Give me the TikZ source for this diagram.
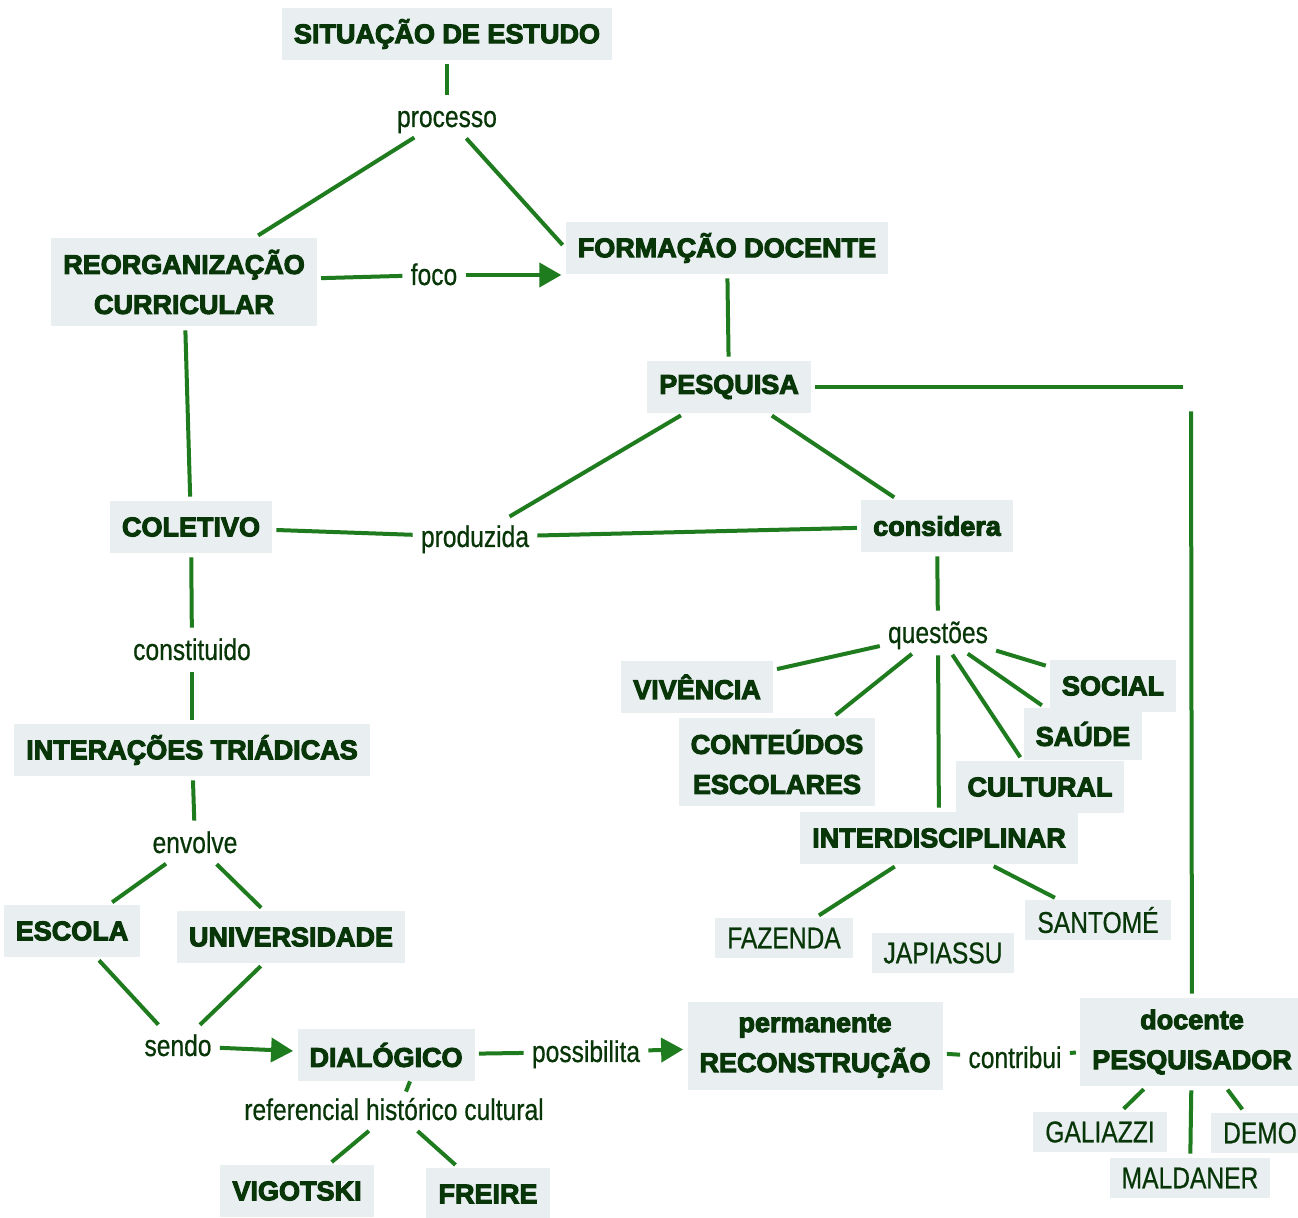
\documentclass[tikz,border=0pt]{standalone}
\usepackage{fontspec}
\setmainfont{Liberation Sans}
\newfontfamily\heavyfont{Liberation Sans Bold}[FakeBold=4]
\newfontfamily\narrowfont{Liberation Sans}[FakeStretch=0.82,FakeBold=0.6]
\usetikzlibrary{positioning,arrows.meta}

\definecolor{boxfill}{HTML}{E9EFF1}
\definecolor{inkgreen}{HTML}{083608}
\definecolor{wiregreen}{HTML}{1E7B1E}

\begin{document}
\begin{tikzpicture}[
    x=0.5pt, y=-0.5pt,
    >={Triangle[length=11pt,width=12pt]},
    concept/.style={rectangle, fill=boxfill, text=inkgreen, inner xsep=6pt, inner ysep=0pt,
        minimum height=26pt, align=center, font=\heavyfont\fontsize{13.5}{20}\selectfont},
    tall/.style={minimum height=44pt},
    author/.style={concept, minimum height=20pt, font=\narrowfont\fontsize{15}{18}\selectfont},
    phrase/.style={text=inkgreen, inner sep=2pt, text height=12pt, text depth=2pt,
        font=\narrowfont\fontsize{15}{18}\selectfont},
    every edge/.style={draw=wiregreen, line width=2pt, shorten <=2pt, shorten >=2pt}
]
\useasboundingbox (0,0) rectangle (1298,1218);

% left column
\node[concept] (situacao) at (447,34) {SITUAÇÃO DE ESTUDO};
\node[phrase] (processo) at (447,117) {processo};
\node[concept,tall] (reorg) at (184,282) {REORGANIZAÇÃO\\CURRICULAR};
\node[phrase] (foco) at (434,275) {foco};
\node[concept] (formacao) at (727,248) {FORMAÇÃO DOCENTE};
\node[concept] (pesquisa) at (729,387) {PESQUISA};
\node[concept] (coletivo) at (191,527) {COLETIVO};
\node[phrase] (produzida) at (475,537) {produzida};
\node[concept] (considera) at (937,526) {considera};
\node[phrase] (constituido) at (192,650) {constituido};
\node[concept] (interacoes) at (192,750) {INTERAÇÕES TRIÁDICAS};
\node[phrase] (envolve) at (195,843) {envolve};
\node[concept] (escola) at (72,931) {ESCOLA};
\node[concept] (universidade) at (291,937) {UNIVERSIDADE};
\node[phrase] (sendo) at (178,1046) {sendo};
\node[concept] (dialogico) at (386,1055) {DIALÓGICO};
\node[phrase] (referencial) at (394,1110) {referencial histórico cultural};
\node[concept] (vigotski) at (297,1191) {VIGOTSKI};
\node[concept] (freire) at (488,1194) {FREIRE};

% bottom row
\node[phrase] (possibilita) at (586,1052) {possibilita};
\node[concept,tall] (reconstrucao) at (815,1046) {permanente\\RECONSTRUÇÃO};
\node[phrase] (contribui) at (1015,1058) {contribui};
\node[concept,tall] (docpesq) at (1192,1042) {docente\\PESQUISADOR};
\node[author] (galiazzi) at (1100,1132) {GALIAZZI};
\node[author] (maldaner) at (1190,1178) {MALDANER};
\node[author] (demo) at (1260,1133) {DEMO};

% questoes fan
\node[phrase] (questoes) at (938,633) {questões};
\node[concept] (vivencia) at (697,687) {VIVÊNCIA};
\node[concept,tall] (conteudos) at (777,762) {CONTEÚDOS\\ESCOLARES};
\node[concept] (interdisc) at (939,838) {INTERDISCIPLINAR};
\node[concept] (cultural) at (1040,787) {CULTURAL};
\node[concept] (saude) at (1083,734) {SAÚDE};
\node[concept] (social) at (1113,686) {SOCIAL};
\node[author] (fazenda) at (784,938) {FAZENDA};
\node[author] (japiassu) at (943,953) {JAPIASSU};
\node[author] (santome) at (1098,920) {SANTOMÉ};
\node[inner sep=0pt, minimum width=4pt, minimum height=20pt] (canto) at (1191,387) {};

\path
(situacao) edge (processo)
(processo) edge (reorg)
(processo) edge (formacao.west)
(reorg) edge (foco)
(foco) edge[->] (foco -| formacao.west)
(formacao) edge (pesquisa)
(pesquisa) edge (produzida)
(pesquisa) edge (considera)
(pesquisa) edge (canto)
(canto) edge (docpesq)
(coletivo) edge (produzida)
(produzida) edge (considera)
(reorg) edge (coletivo)
(coletivo) edge (constituido)
(constituido) edge (interacoes)
(interacoes) edge (envolve)
(envolve) edge (escola)
(envolve) edge (universidade)
(escola) edge (sendo)
(universidade) edge (sendo)
(sendo) edge[->] (dialogico)
(dialogico) edge (possibilita)
(possibilita) edge[->] (reconstrucao)
(reconstrucao) edge (contribui)
(contribui) edge (docpesq)
([xshift=12pt]dialogico.south) edge[shorten <=0pt, shorten >=0pt] ([xshift=6pt]referencial.north)
(referencial) edge (vigotski)
(referencial) edge (freire)
(docpesq) edge (galiazzi)
(docpesq) edge (maldaner)
(docpesq) edge (demo)
(considera) edge (questoes)
(questoes) edge (vivencia)
(questoes) edge (conteudos)
(questoes) edge (interdisc)
(questoes) edge (cultural)
(questoes) edge (saude)
(questoes) edge (social)
(interdisc) edge (fazenda)
(interdisc) edge (santome);

\end{tikzpicture}
\end{document}
